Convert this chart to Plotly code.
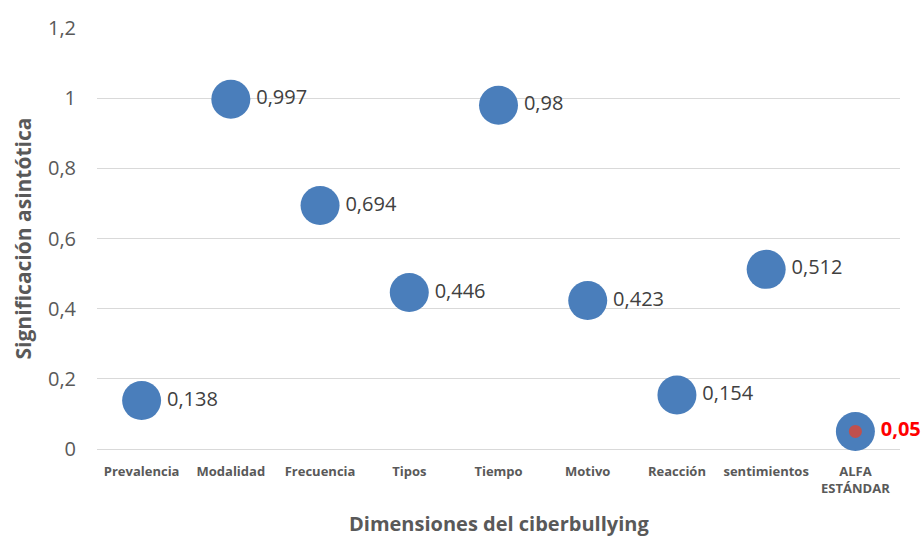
import plotly.graph_objects as go

categories = ["Prevalencia", "Modalidad", "Frecuencia", "Tipos", "Tiempo",
              "Motivo", "Reacción", "sentimientos", "ALFA<br>ESTÁNDAR"]
values = [0.138, 0.997, 0.694, 0.446, 0.98, 0.423, 0.154, 0.512, 0.05]
labels = ["0,138", "0,997", "0,694", "0,446", "0,98", "0,423", "0,154", "0,512", "<b>0,05</b>"]
alpha_category = ["ALFA<br>ESTÁNDAR"]
alpha_value = [0.05]

label_colors = ["#404040"] * 8 + ["#FF0000"]

fig = go.Figure()
fig.add_trace(go.Scatter(
    x=categories, y=values, mode="markers+text",
    marker=dict(size=39, color="#4A7EBB", line=dict(width=0)),
    text=labels, textposition="middle right",
    textfont=dict(family="Open Sans", size=20, color=label_colors),
    cliponaxis=False, showlegend=False,
))
fig.add_trace(go.Scatter(
    x=alpha_category, y=alpha_value, mode="markers",
    marker=dict(size=13, color="#C0504D", symbol="circle", line=dict(width=0)),
    cliponaxis=False, showlegend=False,
))

fig.update_layout(
    width=924, height=536,
    margin=dict(l=97, r=24, t=28, b=87),
    paper_bgcolor="white", plot_bgcolor="white",
    separators=",.",
    font=dict(family="Open Sans", color="#595959"),
    xaxis=dict(
        type="category", range=[-0.5, 8.5], automargin=False,
        showgrid=False, showline=False, zeroline=False,
        tickfont=dict(size=13, color="#595959", family="Open Sans"),
        ticklabelstandoff=13,
        tickprefix="<b>", ticksuffix="</b>",
    ),
    yaxis=dict(
        range=[0, 1.2], tickvals=[0, 0.2, 0.4, 0.6, 0.8, 1, 1.2], automargin=False,
        showgrid=True, gridcolor="#D9D9D9", gridwidth=1,
        zeroline=True, zerolinecolor="#D9D9D9", zerolinewidth=1,
        showline=False,
        tickfont=dict(size=20, color="#595959"),
        ticklabelstandoff=20,
    ),
    annotations=[
        dict(text="<b>Dimensiones del ciberbullying</b>", xref="paper", yref="paper",
             x=0.5, y=0, yanchor="middle", yshift=-74, showarrow=False,
             font=dict(size=20, color="#595959")),
        dict(text="<b>Significación asintótica</b>", xref="paper", yref="paper",
             x=0, y=0.5, xanchor="center", xshift=-75, textangle=-90, showarrow=False,
             font=dict(size=21, color="#595959")),
    ],
)

fig.write_html("out.html", config={"displayModeBar": False},
               post_script="document.body.style.margin='0';document.body.style.overflow='hidden';")
